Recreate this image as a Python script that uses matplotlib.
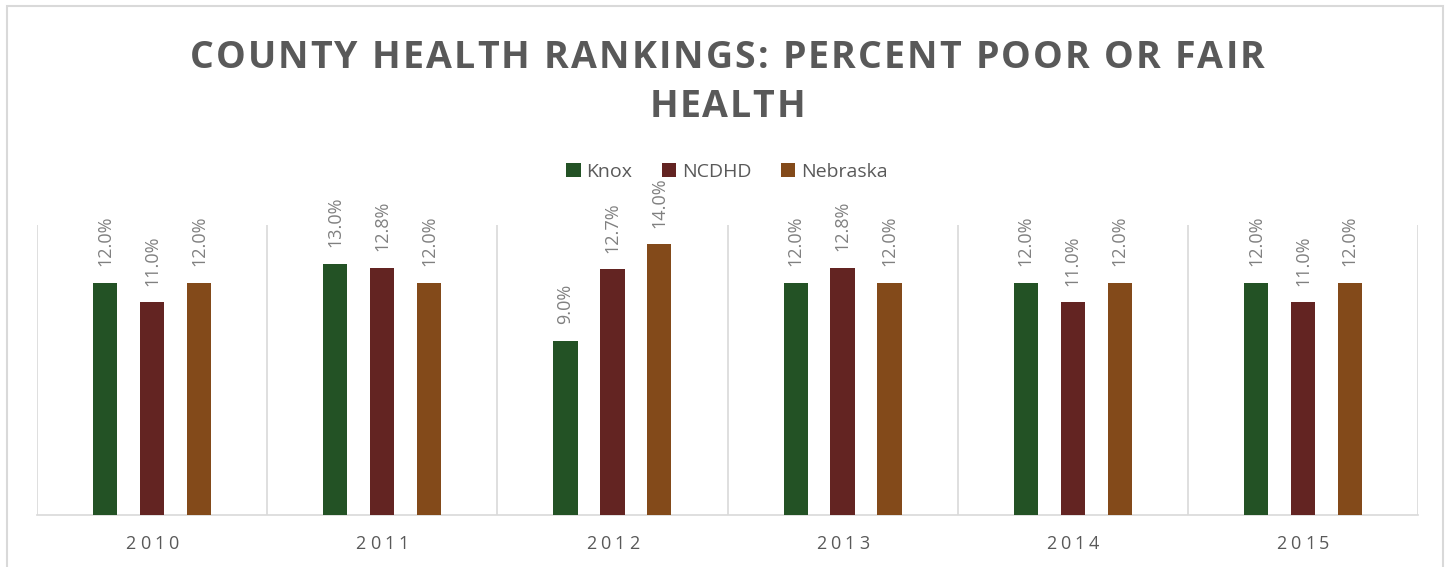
import matplotlib
matplotlib.use("Agg")
import matplotlib.pyplot as plt
import numpy as np
from matplotlib.font_manager import FontProperties
from matplotlib.textpath import TextToPath
from matplotlib.patches import Rectangle

years = ["2010", "2011", "2012", "2013", "2014", "2015"]
series_names = ["Knox", "NCDHD", "Nebraska"]
knox = [12.0, 13.0, 9.0, 12.0, 12.0, 12.0]
ncdhd = [11.0, 12.8, 12.7, 12.8, 11.0, 11.0]
nebraska = [12.0, 12.0, 14.0, 12.0, 12.0, 12.0]
title_lines = ["COUNTY HEALTH RANKINGS: PERCENT POOR OR FAIR", "HEALTH"]

colors = ["#235225", "#632422", "#834a1a"]
W, H, DPI = 1450, 567, 100
fig = plt.figure(figsize=(W / DPI, H / DPI), dpi=DPI)
ax = fig.add_axes([37 / W, 1 - 515 / H, (1418 - 37) / W, (515 - 225) / H])

x = np.arange(len(years))
width = 0.105
offset = 0.204
for i, (name, vals) in enumerate(zip(series_names, [knox, ncdhd, nebraska])):
    bars = ax.bar(x + (i - 1) * offset, vals, width, color=colors[i], label=name, zorder=3)
    for b, v in zip(bars, vals):
        ax.annotate(f"{v:.1f}%", (b.get_x() + b.get_width() / 2, v), xytext=(0, 12),
                    textcoords="offset points", rotation=90, ha="center", va="bottom",
                    fontsize=13, color="#808080", family="Open Sans")

ax.set_xlim(-0.5, len(years) - 0.5)
ax.set_ylim(0, 15)
ax.vlines(np.arange(len(years) + 1) - 0.5, 0, 15, color="#d9d9d9", lw=1.2, zorder=1)
for s in ["top", "left", "right"]:
    ax.spines[s].set_visible(False)
ax.spines["bottom"].set_color("#d9d9d9")
ax.spines["bottom"].set_linewidth(1.2)
ax.set_yticks([])
ax.set_xticks([])

t2p = TextToPath()

def spaced(s, cx_px, cy_px, prop, spacing_px=None, target_px=None, color="#595959"):
    widths = [t2p.get_text_width_height_descent(c, prop, ismath=False)[0] * DPI / 72 for c in s]
    natural = sum(widths)
    if target_px is not None:
        spacing_px = (target_px - natural) / max(len(s) - 1, 1)
    total = natural + spacing_px * (len(s) - 1)
    xp = cx_px - total / 2
    for c, w in zip(s, widths):
        fig.text(xp / W, 1 - cy_px / H, c, fontproperties=prop, color=color, ha="left", va="center")
        xp += w + spacing_px
    return spacing_px

tprop = FontProperties(family="Open Sans", weight="bold", size=27)
sp = spaced(title_lines[0], 727, 58, tprop, target_px=1075)
spaced(title_lines[1], 727, 107, tprop, spacing_px=sp * 0.8)

kprop = FontProperties(family="Open Sans", size=13)
for xi, yr in zip(x, years):
    cx = 37 + (xi + 0.5) * (1418 - 37) / len(years)
    spaced(yr, cx, 544, kprop, spacing_px=4)

leg = fig.legend(loc="center", bbox_to_anchor=(727 / W, 1 - 172 / H), ncol=3, frameon=False,
                 handlelength=0.75, handleheight=0.75, handletextpad=0.3, columnspacing=1.5,
                 prop=FontProperties(family="Open Sans", size=14))
for t in leg.get_texts():
    t.set_color("#595959")

fig.patches.append(Rectangle((7 / W, -0.05), (1443 - 7) / W, 1.05 - 6 / H, transform=fig.transFigure,
                             fill=False, edgecolor="#d9d9d9", lw=1.5))

fig.savefig("out.png", dpi=DPI)
